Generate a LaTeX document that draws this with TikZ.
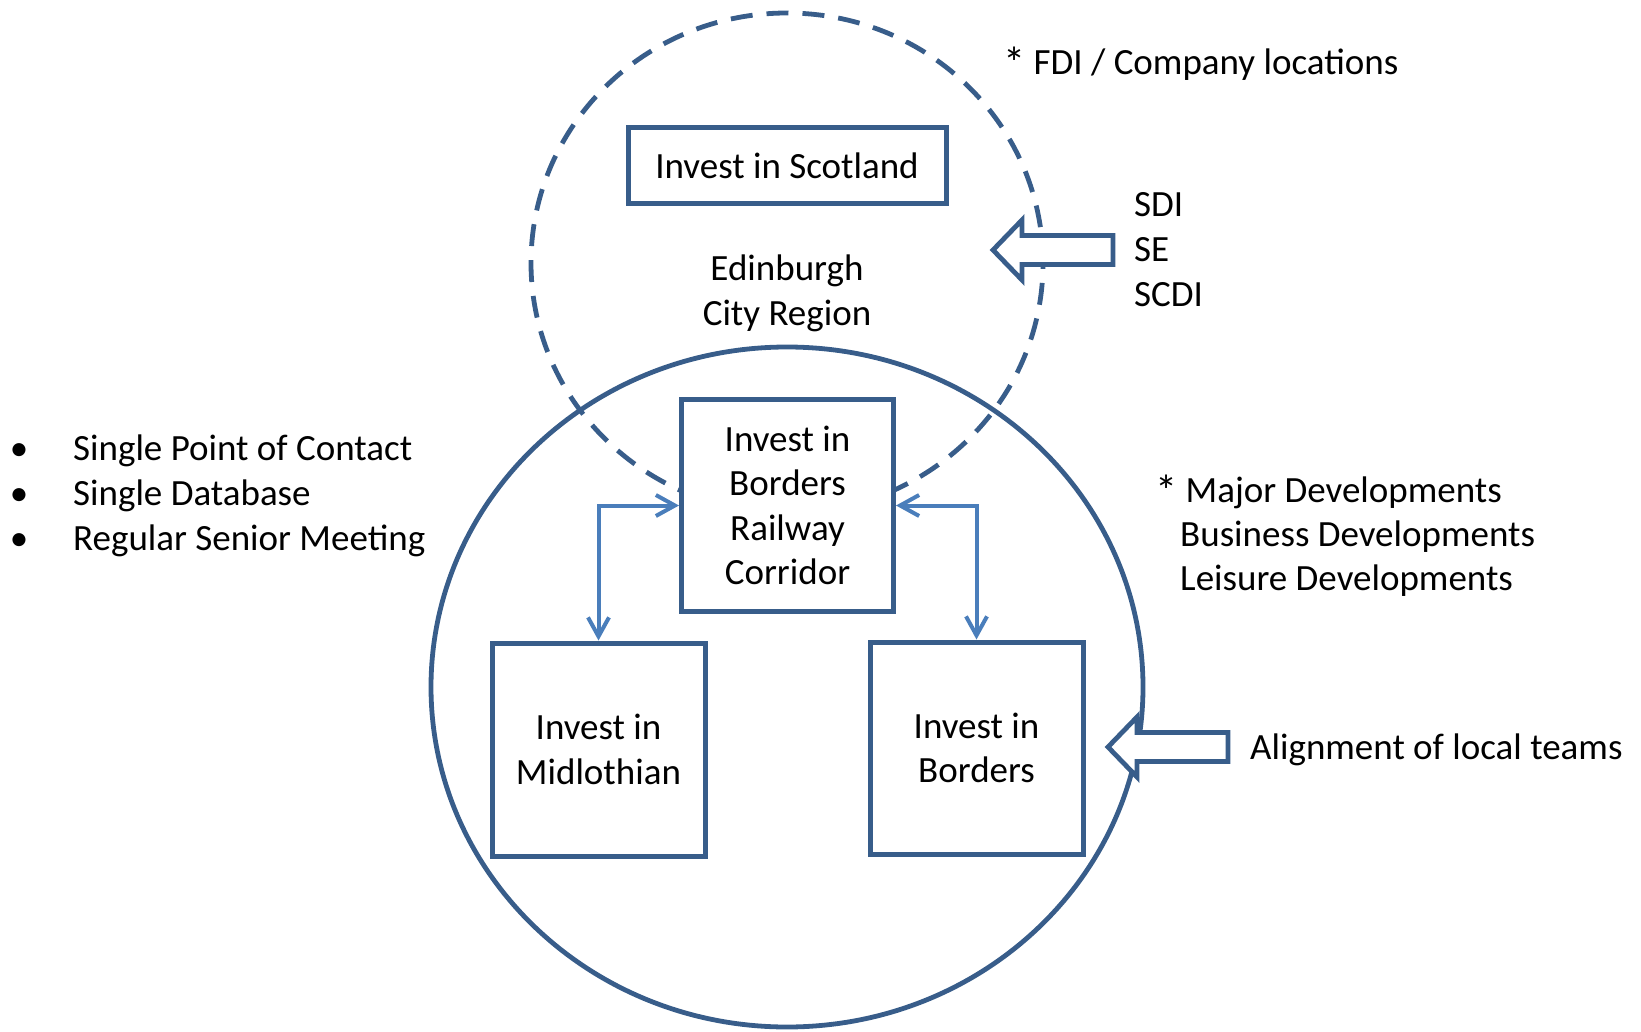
\documentclass[tikz,border=0pt]{standalone}
\usepackage{fontspec}
\setmainfont{Carlito}
\usetikzlibrary{arrows.meta}
\definecolor{outline}{RGB}{56,93,138}
\definecolor{linkblue}{RGB}{74,126,187}
\newcommand{\notemark}{\raisebox{-4pt}{\scalebox{1.2}{*}}}

\begin{document}
\begin{tikzpicture}[x=1pt,y=-1pt,
  every node/.style={font=\fontsize{37}{44.5}\selectfont, inner sep=0pt},
  ring/.style={draw=outline, line width=4.8pt},
  zone/.style={ring, dash pattern=on 22pt off 14pt},
  box/.style={draw=outline, line width=5pt, fill=white, align=center},
  biarrow/.style={draw=linkblue, line width=4pt,
    {Straight Barb[length=19pt,width=21pt]}-{Straight Barb[length=19pt,width=21pt]}},
  txt/.style={anchor=base west},
  pics/pointer/.style={code={
    \draw[draw=outline, line width=4.8pt, fill=white, line join=miter]
      (0,0) -- (29,-30) -- (29,-14.5) -- (120,-14.5) -- (120,14.5)
      -- (29,14.5) -- (29,30) -- cycle;
  }},
]
\useasboundingbox (0,0) rectangle (1641,1032);

% regions
\draw[zone] (787,263) ellipse [x radius=256pt, y radius=250pt];
\draw[ring] (787,687) ellipse [x radius=356pt, y radius=340pt];

% organisations
\node[box, minimum width=318pt, minimum height=76pt] (scot) at (787,166) {Invest in Scotland};
\node[box, minimum width=212pt, minimum height=212pt] (brc) at (787.5,505.5) {Invest in\\Borders\\Railway\\Corridor};
\node[box, minimum width=213pt, minimum height=213pt] (mid) at (598.5,749.5) {Invest in\\Midlothian};
\node[box, minimum width=213pt, minimum height=212pt] (bor) at (976.5,748) {Invest in\\Borders};

% links between the local teams
\draw[biarrow] (brc.west) -| (mid.north);
\draw[biarrow] (brc.east) -| (bor.north);

% inputs
\pic at (993,250) {pointer};
\pic at (1108,747) {pointer};

% region label
\node[anchor=base] (ecr1) at (787,281) {Edinburgh};
\node[anchor=base] (ecr2) at (787,326) {City Region};

% notes
\node[txt] (fdi) at (1003,75) {\notemark{} FDI / Company locations};
\node[txt] (sdi) at (1134,217) {SDI};
\node[txt] (se) at (1134,262) {SE};
\node[txt] (scdi) at (1134,307) {SCDI};

\node[anchor=base] (b1) at (19,460) {•};
\node[anchor=base] (b2) at (19,505) {•};
\node[anchor=base] (b3) at (19,550) {•};
\node[txt] (p1) at (73,460) {Single Point of Contact};
\node[txt] (p2) at (73,505) {Single Database};
\node[txt] (p3) at (73,550) {Regular Senior Meeting};

\node[txt] (d1) at (1155,502) {\notemark{} Major Developments};
\node[txt] (d2) at (1180,546) {Business Developments};
\node[txt] (d3) at (1180,590) {Leisure Developments};

\node[txt] (align) at (1250,759) {Alignment of local teams};
\end{tikzpicture}
\end{document}
